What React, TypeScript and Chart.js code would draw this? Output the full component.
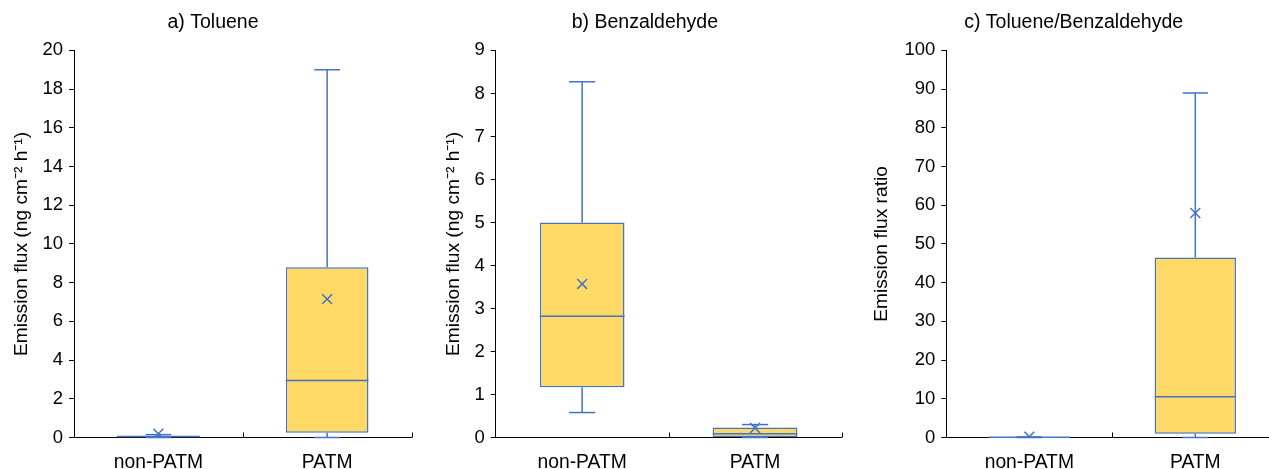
import React, { useEffect, useRef } from 'react';
import { Chart, registerables } from 'chart.js';

Chart.register(...registerables);

const categories = ['non-PATM', 'PATM'];

// a) Toluene
const tolueneMin = [0, 0];
const tolueneQ1 = [0.02, 0.25];
const tolueneMedian = [0.05, 2.95];
const tolueneQ3 = [0.08, 8.8];
const tolueneMax = [0.15, 19];
const tolueneMean = [0.2, 7.15];

// b) Benzaldehyde
const benzMin = [0.58, 0];
const benzQ1 = [1.17, 0.01];
const benzMedian = [2.82, 0.09];
const benzQ3 = [5.0, 0.23];
const benzMax = [8.27, 0.3];
const benzMean = [3.57, 0.22];

// c) Toluene/Benzaldehyde
const ratioMin = [0, 0];
const ratioQ1 = [0.02, 1];
const ratioMedian = [0.05, 10.5];
const ratioQ3 = [0.1, 46.5];
const ratioMax = [0.15, 89];
const ratioMean = [0.2, 58];

const titles = ['a) Toluene', 'b) Benzaldehyde', 'c) Toluene/Benzaldehyde'];
const yTitles = ['Emission flux (ng cm\u207B\u00B2 h\u207B\u00B9)', 'Emission flux (ng cm\u207B\u00B2 h\u207B\u00B9)', 'Emission flux ratio'];
const yMaxes = [20, 9, 100];
const ySteps = [2, 1, 10];

const BLUE = '#4472C4';
const GOLD = '#FFD966';
const FONT = "'Liberation Sans', Arial, sans-serif";

Chart.defaults.font.family = FONT;
Chart.defaults.color = '#000';

type Stats = { min: number[]; q1: number[]; median: number[]; q3: number[]; max: number[]; mean: number[] };

const boxPlugin = {
  id: 'boxWhiskers',
  afterDatasetsDraw(chart: any, _args: any, opts: any) {
    const { ctx, scales } = chart;
    const y = scales.y;
    const s: Stats = opts.stats;
    const meta = chart.getDatasetMeta(0);
    ctx.save();
    ctx.strokeStyle = BLUE;
    ctx.lineWidth = 1.5;
    const line = (x1: number, y1: number, x2: number, y2: number) => {
      ctx.beginPath();
      ctx.moveTo(x1, y1);
      ctx.lineTo(x2, y2);
      ctx.stroke();
    };
    meta.data.forEach((bar: any, i: number) => {
      const cx = bar.x;
      const half = bar.width / 2;
      const cap = bar.width * 0.155;
      const pMin = y.getPixelForValue(s.min[i]);
      const pQ1 = y.getPixelForValue(s.q1[i]);
      const pMed = y.getPixelForValue(s.median[i]);
      const pQ3 = y.getPixelForValue(s.q3[i]);
      const pMax = y.getPixelForValue(s.max[i]);
      line(cx - half, pMed, cx + half, pMed);
      line(cx, pQ1, cx, pMin);
      line(cx, pQ3, cx, pMax);
      line(cx - cap, pMin, cx + cap, pMin);
      line(cx - cap, pMax, cx + cap, pMax);
    });
    ctx.restore();
  },
  afterDraw(chart: any) {
    const { ctx, scales, chartArea } = chart;
    const x = scales.x;
    ctx.save();
    ctx.strokeStyle = '#000';
    ctx.lineWidth = 1;
    const positions = [x.getPixelForValue(0.5), chartArea.right];
    positions.forEach((px: number) => {
      const xx = Math.round(px) + 0.5;
      ctx.beginPath();
      ctx.moveTo(xx, chartArea.bottom);
      ctx.lineTo(xx, chartArea.bottom - 5);
      ctx.stroke();
    });
    ctx.restore();
  },
};

type PanelProps = {
  idx: number;
  stats: Stats;
  left: number;
  width: number;
  padL: number;
  padR: number;
  yAxisWidth: number;
  yTitlePad: number;
};

function Panel({ idx, stats, left, width, padL, padR, yAxisWidth, yTitlePad }: PanelProps) {
  const ref = useRef<HTMLCanvasElement | null>(null);
  useEffect(() => {
    if (!ref.current) return;
    const boxes = categories.map((_, i) => [stats.q1[i], stats.q3[i]]);
    const chart = new Chart(ref.current, {
      type: 'bar',
      data: {
        labels: categories,
        datasets: [
          {
            type: 'bar',
            order: 2,
            data: boxes as any,
            backgroundColor: GOLD,
            borderColor: BLUE,
            borderWidth: 1.5,
            borderSkipped: false,
            barPercentage: 0.49,
            categoryPercentage: 1,
          } as any,
          {
            type: 'line',
            order: 1,
            data: stats.mean,
            showLine: false,
            pointStyle: 'crossRot',
            pointRadius: 7,
            pointBorderColor: BLUE,
            pointBorderWidth: 1.5,
            borderColor: BLUE,
          } as any,
        ],
      },
      options: {
        responsive: false,
        animation: false,
        layout: { padding: { left: padL, right: padR, top: 0, bottom: 0 } },
        plugins: {
          legend: { display: false },
          tooltip: { enabled: false },
          title: {
            display: true,
            text: titles[idx],
            color: '#000',
            font: { size: 19.5, weight: 'normal', family: FONT },
            padding: { top: 11, bottom: 16 },
          },
          boxWhiskers: { stats },
        } as any,
        scales: {
          x: {
            offset: true,
            grid: { display: true, drawOnChartArea: false, drawTicks: false },
            border: { display: true, color: '#000', width: 1 },
            ticks: { color: '#000', font: { size: 19.3, family: FONT }, padding: 13.5 },
            afterFit: (scale: any) => {
              scale.height = 31.5;
            },
          },
          y: {
            min: 0,
            max: yMaxes[idx],
            ticks: { stepSize: ySteps[idx], color: '#000', font: { size: 18.5, family: FONT }, padding: 6 },
            grid: { drawOnChartArea: false, drawTicks: true, tickLength: 5, color: '#000' },
            border: { display: true, color: '#000', width: 1 },
            title: {
              display: true,
              text: yTitles[idx],
              color: '#000',
              font: { size: 19.2, family: FONT },
              padding: { top: yTitlePad, bottom: 0 },
            },
            afterFit: (scale: any) => {
              scale.width = yAxisWidth;
            },
          },
        },
      },
      plugins: [boxPlugin],
    });
    return () => chart.destroy();
  }, []);
  return (
    <canvas
      ref={ref}
      width={width}
      height={469}
      style={{ position: 'absolute', left, top: 0, width, height: 469 }}
    />
  );
}

export default function App() {
  const tol: Stats = { min: tolueneMin, q1: tolueneQ1, median: tolueneMedian, q3: tolueneQ3, max: tolueneMax, mean: tolueneMean };
  const benz: Stats = { min: benzMin, q1: benzQ1, median: benzMedian, q3: benzQ3, max: benzMax, mean: benzMean };
  const ratio: Stats = { min: ratioMin, q1: ratioQ1, median: ratioMedian, q3: ratioQ3, max: ratioMax, mean: ratioMean };
  return (
    <div
      style={{
        position: 'absolute',
        left: 0,
        top: 0,
        width: 1269,
        height: 469,
        overflow: 'hidden',
        background: '#fff',
      }}
    >
      <Panel idx={0} stats={tol} left={0} width={420} padL={10} padR={4} yAxisWidth={64} yTitlePad={0.5} />
      <Panel idx={1} stats={benz} left={420} width={430} padL={22} padR={2.3} yAxisWidth={53.7} yTitlePad={0} />
      <Panel idx={2} stats={ratio} left={850} width={440} padL={19} padR={11.7} yAxisWidth={77.3} yTitlePad={1} />
    </div>
  );
}
